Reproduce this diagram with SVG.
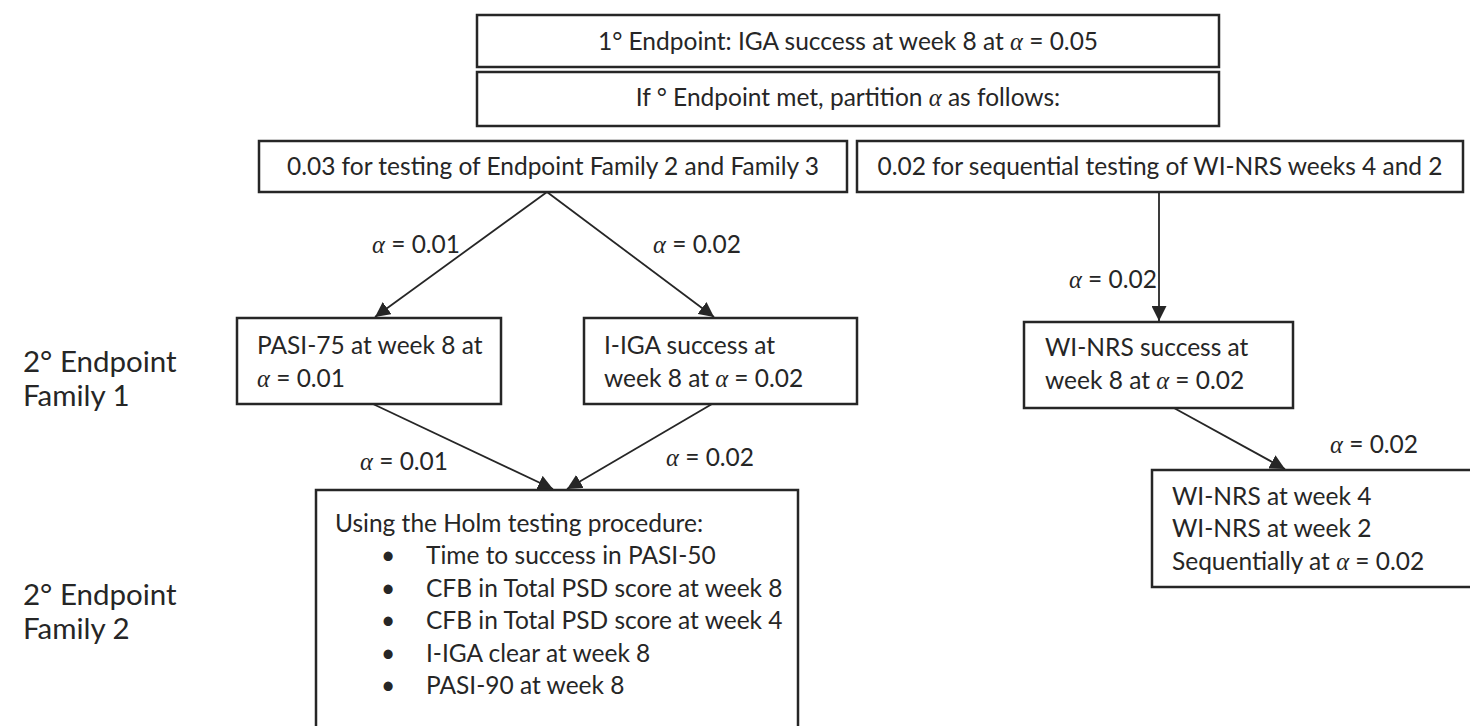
<svg xmlns="http://www.w3.org/2000/svg" width="1470" height="726" viewBox="0 0 1470 726">
<style>
.box{fill:#fff;stroke:#262626;stroke-width:2.5}
.t{font-family:Lato,"Open Sans",sans-serif;font-size:24.5px;fill:#262626}
.side{font-family:Lato,"Open Sans",sans-serif;font-size:29.5px;fill:#262626}
.a{font-family:"Liberation Serif",serif;font-style:italic}
.c{fill:none;stroke:#262626;stroke-width:1.8}
</style>
<defs>
<marker id="ah" viewBox="0 0 10 10" refX="10" refY="5" markerWidth="15" markerHeight="15" markerUnits="userSpaceOnUse" orient="auto">
<path d="M0,0 L10,5 L0,10 Z" fill="#262626"/>
</marker>
</defs>
<rect width="1470" height="726" fill="#fff"/>
<g id="connectors">
<line class="c" x1="547" y1="192" x2="375" y2="317" marker-end="url(#ah)"/>
<line class="c" x1="547" y1="192" x2="714" y2="317" marker-end="url(#ah)"/>
<line class="c" x1="1159" y1="192" x2="1159" y2="321" marker-end="url(#ah)"/>
<line class="c" x1="373" y1="404" x2="553" y2="489" marker-end="url(#ah)"/>
<line class="c" x1="712" y1="404" x2="567" y2="489" marker-end="url(#ah)"/>
<line class="c" x1="1174" y1="408" x2="1285" y2="469" marker-end="url(#ah)"/>
<text class="t" x="372" y="253"><tspan class="a">α</tspan> = 0.01</text>
<text class="t" x="653" y="253"><tspan class="a">α</tspan> = 0.02</text>
<text class="t" x="1157" y="288" text-anchor="end"><tspan class="a">α</tspan> = 0.02</text>
<text class="t" x="360" y="470"><tspan class="a">α</tspan> = 0.01</text>
<text class="t" x="666" y="466"><tspan class="a">α</tspan> = 0.02</text>
<text class="t" x="1330" y="453"><tspan class="a">α</tspan> = 0.02</text>
</g>
<g id="n-primary">
<rect class="box" x="477" y="15" width="742" height="52"/>
<text class="t" x="848" y="50" text-anchor="middle">1° Endpoint:  IGA success at week 8 at <tspan class="a">α</tspan> = 0.05</text>
</g>
<g id="n-partition">
<rect class="box" x="477" y="72" width="742" height="54"/>
<text class="t" x="848" y="106" text-anchor="middle">If ° Endpoint met, partition <tspan class="a">α</tspan> as follows:</text>
</g>
<g id="n-003">
<rect class="box" x="259" y="141" width="588" height="51"/>
<text class="t" x="553" y="175" text-anchor="middle">0.03 for testing of Endpoint Family 2 and Family 3</text>
</g>
<g id="n-002">
<rect class="box" x="857" y="141" width="606" height="51"/>
<text class="t" x="1160" y="175" text-anchor="middle">0.02 for sequential testing of WI-NRS weeks 4 and 2</text>
</g>
<g id="n-pasi75">
<rect class="box" x="237" y="318" width="264" height="86"/>
<text class="t" x="257" y="354">PASI-75 at week 8 at</text>
<text class="t" x="257" y="387"><tspan class="a">α</tspan> = 0.01</text>
</g>
<g id="n-iiga">
<rect class="box" x="584" y="318" width="273" height="86"/>
<text class="t" x="604" y="354">I-IGA success at</text>
<text class="t" x="604" y="387">week 8 at <tspan class="a">α</tspan> = 0.02</text>
</g>
<g id="n-winrs8">
<rect class="box" x="1024" y="322" width="269" height="86"/>
<text class="t" x="1045" y="356">WI-NRS success at</text>
<text class="t" x="1045" y="389">week 8 at <tspan class="a">α</tspan> = 0.02</text>
</g>
<g id="n-holm">
<rect class="box" x="316" y="490" width="482" height="250"/>
<text class="t" x="335" y="532">Using the Holm testing procedure:</text>
<text class="t" x="381" y="564">•</text><text class="t" x="426" y="564">Time to success in PASI-50</text>
<text class="t" x="381" y="597">•</text><text class="t" x="426" y="597">CFB in Total PSD score at week 8</text>
<text class="t" x="381" y="629">•</text><text class="t" x="426" y="629">CFB in Total PSD score at week 4</text>
<text class="t" x="381" y="662">•</text><text class="t" x="426" y="662">I-IGA clear at week 8</text>
<text class="t" x="381" y="694">•</text><text class="t" x="426" y="694">PASI-90 at week 8</text>
</g>
<g id="n-winrs42">
<rect class="box" x="1152" y="470" width="330" height="117"/>
<text class="t" x="1172" y="505">WI-NRS at week 4</text>
<text class="t" x="1172" y="537">WI-NRS at week 2</text>
<text class="t" x="1172" y="570">Sequentially at  <tspan class="a">α</tspan> = 0.02</text>
</g>
<g id="side-labels">
<text class="side" x="23" y="372">2° Endpoint</text>
<text class="side" x="23" y="406">Family 1</text>
<text class="side" x="23" y="605">2° Endpoint</text>
<text class="side" x="23" y="639">Family 2</text>
</g>
</svg>
